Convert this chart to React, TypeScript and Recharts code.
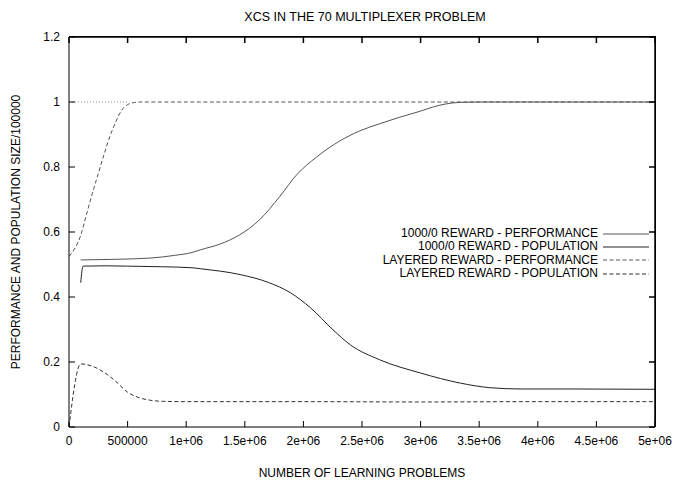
import { LineChart, Line, XAxis, YAxis, ReferenceLine } from 'recharts';

// x values in learning problems, y values
const rewardPerfX = [100000, 400000, 700000, 900000, 1050000, 1120000, 1290000, 1450000, 1630000, 1800000, 1940000, 2110000, 2310000, 2480000, 2650000, 2820000, 3000000, 3100000, 3200000, 3340000, 3500000, 4000000, 4500000, 5000000];
const rewardPerfY = [0.514, 0.516, 0.52, 0.528, 0.537, 0.545, 0.563, 0.59, 0.639, 0.71, 0.775, 0.83, 0.88, 0.911, 0.933, 0.953, 0.972, 0.984, 0.993, 0.999, 1.0, 1.0, 1.0, 1.0];

const rewardPopX = [100000, 120000, 300000, 500000, 800000, 1050000, 1120000, 1460000, 1700000, 1890000, 2060000, 2250000, 2400000, 2650000, 3000000, 3340000, 3590000, 3850000, 4300000, 5000000];
const rewardPopY = [0.444, 0.495, 0.496, 0.495, 0.493, 0.49, 0.487, 0.469, 0.445, 0.413, 0.367, 0.3, 0.253, 0.207, 0.166, 0.135, 0.121, 0.117, 0.117, 0.116];

const layeredPerfX = [0, 100000, 150000, 200000, 250000, 300000, 350000, 400000, 450000, 500000, 550000, 600000, 1000000, 2000000, 3000000, 4000000, 5000000];
const layeredPerfY = [0.525, 0.59, 0.655, 0.72, 0.78, 0.84, 0.895, 0.94, 0.975, 0.992, 0.998, 1.0, 1.0, 1.0, 1.0, 1.0, 1.0];

const layeredPopX = [0, 100000, 200000, 300000, 350000, 400000, 500000, 600000, 700000, 800000, 1000000, 2000000, 3000000, 4000000, 5000000];
const layeredPopY = [0, 0.194, 0.187, 0.168, 0.155, 0.14, 0.107, 0.09, 0.082, 0.079, 0.078, 0.078, 0.077, 0.078, 0.078];

const xTicks = [0, 500000, 1000000, 1500000, 2000000, 2500000, 3000000, 3500000, 4000000, 4500000, 5000000];
const yTicks = [0, 0.2, 0.4, 0.6, 0.8, 1, 1.2];

const toPoints = (xs: number[], ys: number[]) => xs.map((x, i) => ({ x, y: ys[i] }));

// the last series sits on the mirrored top/right axes (same domains) so those axes get ticks
const series = [
  { name: '1000/0 REWARD - PERFORMANCE', data: toPoints(rewardPerfX, rewardPerfY), color: '#555', dash: undefined, xId: 0, yId: 0 },
  { name: '1000/0 REWARD - POPULATION', data: toPoints(rewardPopX, rewardPopY), color: '#222', dash: undefined, xId: 0, yId: 0 },
  { name: 'LAYERED REWARD - PERFORMANCE', data: toPoints(layeredPerfX, layeredPerfY), color: '#555', dash: '4 2.5', xId: 0, yId: 0 },
  { name: 'LAYERED REWARD - POPULATION', data: toPoints(layeredPopX, layeredPopY), color: '#333', dash: '4 2.5', xId: 'top', yId: 'right' },
];

const font = '"Liberation Sans", Arial, sans-serif';

const fmtX = (v: number) => {
  if (v < 1000000) return String(v);
  return `${v / 1000000}e+06`;
};

const fmtY = (v: number) => String(Math.round(v * 10) / 10);
const blank = () => '';

const KeyBox = () => (
  <div style={{ position: 'absolute', right: 24, top: 227, fontFamily: font, fontSize: 12, color: '#000' }}>
    {series.map((s) => (
      <div key={s.name} style={{ display: 'flex', alignItems: 'center', justifyContent: 'flex-end', height: 13.33, lineHeight: '13.33px' }}>
        <span>{s.name}</span>
        <svg width={51} height={6} style={{ marginLeft: 5 }}>
          <line x1={0} y1={3} x2={46} y2={3} stroke={s.color} strokeWidth={1} strokeDasharray={s.dash} />
        </svg>
      </div>
    ))}
  </div>
);

const App = () => {
  return (
    <div style={{ position: 'absolute', left: 0, top: 0, width: 678, height: 481, background: '#fff', fontFamily: font }}>
      <div style={{ position: 'absolute', top: 10, left: 0, width: 730, textAlign: 'center', fontSize: 12.5, color: '#000' }}>
        XCS IN THE 70 MULTIPLEXER PROBLEM
      </div>
      <LineChart width={678} height={481} margin={{ top: 34, right: 20, left: 0, bottom: 0 }}>
        <XAxis
          dataKey='x'
          type='number'
          domain={[0, 5000000]}
          ticks={xTicks}
          tickFormatter={fmtX}
          height={54}
          tickSize={-6}
          tickMargin={15}
          stroke='#000'
          tick={{ fill: '#000', fontSize: 12, fontFamily: font }}
          label={{ value: 'NUMBER OF LEARNING PROBLEMS', position: 'insideBottom', offset: 4, fill: '#000', fontSize: 12, fontFamily: font }}
        />
        <XAxis
          xAxisId='top'
          orientation='top'
          dataKey='x'
          type='number'
          domain={[0, 5000000]}
          ticks={xTicks}
          tickFormatter={blank}
          height={3}
          tickSize={-6}
          stroke='#000'
          strokeWidth={1.5}
        />
        <YAxis
          type='number'
          domain={[0, 1.2]}
          ticks={yTicks}
          tickFormatter={fmtY}
          width={69}
          tickSize={-6}
          tickMargin={15}
          stroke='#000'
          tick={{ fill: '#000', fontSize: 12, fontFamily: font }}
          label={{ value: 'PERFORMANCE AND POPULATION SIZE/100000', angle: -90, position: 'insideLeft', offset: 16, fill: '#000', fontSize: 12, fontFamily: font, style: { textAnchor: 'middle' } }}
        />
        <YAxis
          yAxisId='right'
          orientation='right'
          type='number'
          domain={[0, 1.2]}
          ticks={yTicks}
          tickFormatter={blank}
          width={3}
          tickSize={-6}
          stroke='#000'
          strokeWidth={1.5}
        />
        <ReferenceLine
          segment={[{ x: 0, y: 1 }, { x: 500000, y: 1 }]}
          stroke='#999'
          strokeDasharray='1 2'
        />
        {series.map((s) => (
          <Line
            key={s.name}
            name={s.name}
            data={s.data}
            dataKey='y'
            xAxisId={s.xId}
            yAxisId={s.yId}
            type='monotone'
            stroke={s.color}
            strokeWidth={1}
            strokeDasharray={s.dash}
            dot={false}
            activeDot={false}
            isAnimationActive={false}
          />
        ))}
      </LineChart>
      {/* frame edges at top and right of the plot box */}
      <div style={{ position: 'absolute', left: 69, top: 36, width: 587, height: 391, borderTop: '1px solid #000', borderRight: '1px solid #000', boxSizing: 'border-box', pointerEvents: 'none' }} />
      <KeyBox />
    </div>
  );
};

export default App;
